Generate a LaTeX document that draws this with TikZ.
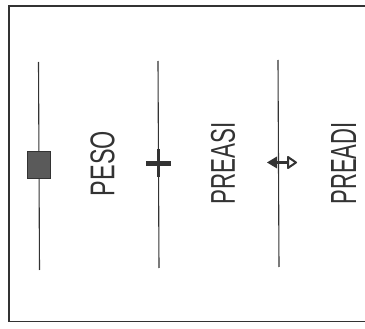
\documentclass[tikz,border=0pt]{standalone}
\usepackage{fontspec}
\setmainfont{Liberation Sans}
\definecolor{ink}{HTML}{333333}
\definecolor{fillgray}{HTML}{5A5A5A}
\begin{document}
\begin{tikzpicture}[x=1pt,y=-1pt,
  axisline/.style={draw=ink, line width=1.1pt},
  lbl/.style={rotate=90, inner sep=0pt, text=ink},
  frameline/.style={draw=ink, line width=1.2pt}]
\useasboundingbox (0,0) rectangle (365,329);
% frame (right side lies outside the picture)
\draw[frameline] (372,6) -- (9,6) -- (9,321.5) -- (372,321.5);
% vertical lines
\coordinate (t1) at (38.5,62);  \coordinate (b1) at (39.5,270);
\coordinate (t2) at (158,61);   \coordinate (b2) at (159,268);
\coordinate (t3) at (278,60);   \coordinate (b3) at (279,267);
\draw[axisline] (t1) -- (b1);
\draw[axisline] (t2) -- (b2);
\draw[axisline] (t3) -- (b3);
% marker 1: filled square
\node[draw=ink, fill=fillgray, minimum width=23pt, minimum height=27pt, inner sep=0pt, line width=0.8pt] (sq) at (39,164.5) {};
% marker 2: cross
\coordinate (cl) at (146,163.5); \coordinate (cr) at (171,163.5);
\coordinate (ct) at (158.5,149); \coordinate (cb) at (158.5,177);
\draw[draw=ink, line width=4.5pt] (cl) -- (cr);
\draw[draw=ink, line width=3.5pt] (ct) -- (cb);
% marker 3: double-headed marker
\coordinate (al) at (267,162.5); \coordinate (ar) at (296,162.5);
\fill[ink] (al) -- (277,156.5) -- (277,168.5) -- cycle;
\draw[draw=ink, line width=3.5pt] (272,162.5) -- (289,162.5);
\draw[draw=ink, line width=2pt, line join=round] (ar) -- (288,157) -- (288,168) -- cycle;
% labels
\node[lbl] (peso) at (102.5,163.5) {\resizebox{65pt}{24pt}{PESO}};
\node[lbl] (preasi) at (223,163.5) {\resizebox{82pt}{24pt}{PREASI}};
\node[lbl] (preadi) at (343.5,163.5) {\resizebox{82pt}{25pt}{PREADI}};
\end{tikzpicture}
\end{document}
